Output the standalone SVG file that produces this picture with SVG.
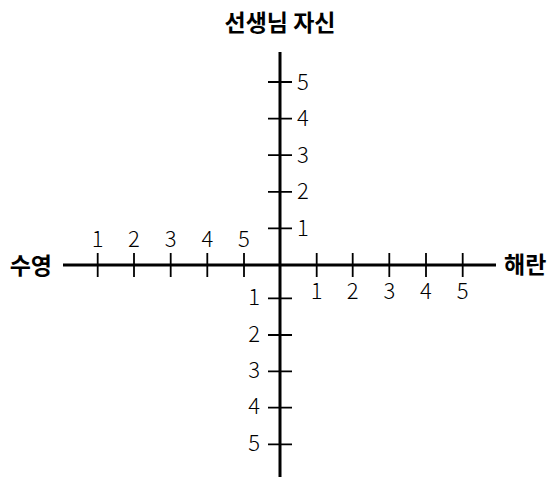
<svg xmlns="http://www.w3.org/2000/svg" width="548" height="477" viewBox="0 0 548 477">
<style>
.ax{stroke:#000;stroke-width:3;fill:none}
.tk{stroke:#000;stroke-width:1.8;fill:none}
.n{font-family:"Noto Sans CJK KR","Noto Sans",sans-serif;font-size:22px;font-weight:300;fill:#000}
.t{font-family:"Noto Sans CJK KR",sans-serif;font-size:23px;font-weight:bold;fill:#000}
</style>
<rect width="548" height="477" fill="#fff"/>
<g id="connectors">
<line class="ax" x1="280" y1="52" x2="280" y2="477"/>
<line class="ax" x1="63" y1="265" x2="496" y2="265"/>
<path class="tk" d="M97.7 253V277M134 253V277M170.7 253V277M207.3 253V277M244 253V277M316.7 253V277M352.7 253V277M389.3 253V277M426 253V277M462.7 253V277"/>
<path class="tk" d="M268 82H292M268 118.6H292M268 155.2H292M268 191.8H292M268 228.4H292M268 298.3H292M268 335H292M268 371.3H292M268 407.7H292M268 444.3H292"/>
</g>
<g id="title"><text class="t" x="280" y="31" text-anchor="middle">선생님 자신</text></g>
<g id="left-label"><text class="t" x="52" y="273.5" text-anchor="end">수영</text></g>
<g id="right-label"><text class="t" x="504" y="272.5">해란</text></g>
<g id="left-numbers" text-anchor="middle">
<text class="n" x="97.7" y="247">1</text>
<text class="n" x="134" y="247">2</text>
<text class="n" x="170.7" y="247">3</text>
<text class="n" x="207.3" y="247">4</text>
<text class="n" x="244" y="247">5</text>
</g>
<g id="right-numbers" text-anchor="middle">
<text class="n" x="316.7" y="298.5">1</text>
<text class="n" x="352.7" y="298.5">2</text>
<text class="n" x="389.3" y="298.5">3</text>
<text class="n" x="426" y="298.5">4</text>
<text class="n" x="462.7" y="298.5">5</text>
</g>
<g id="top-numbers">
<text class="n" x="297" y="89.6">5</text>
<text class="n" x="297" y="126.2">4</text>
<text class="n" x="297" y="162.8">3</text>
<text class="n" x="297" y="199.4">2</text>
<text class="n" x="297" y="236">1</text>
</g>
<g id="bottom-numbers" text-anchor="end">
<text class="n" x="260" y="304.8">1</text>
<text class="n" x="260" y="341.5">2</text>
<text class="n" x="260" y="377.8">3</text>
<text class="n" x="260" y="414.2">4</text>
<text class="n" x="260" y="450.8">5</text>
</g>
</svg>
